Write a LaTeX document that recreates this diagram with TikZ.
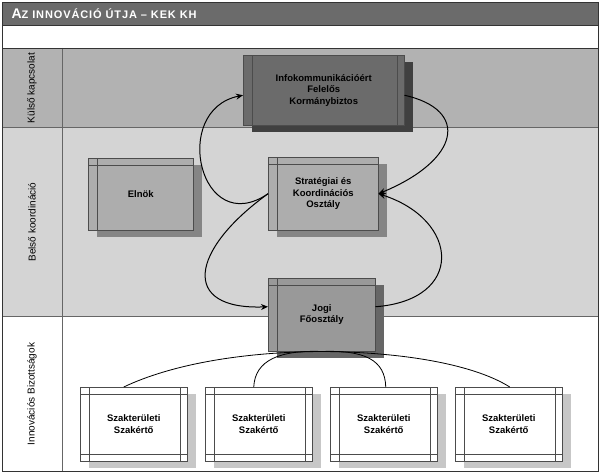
\documentclass[tikz,border=0pt]{standalone}
\usepackage{fontspec}
\setmainfont{Liberation Sans}
\newfontfamily\titlefont[LetterSpace=8]{Liberation Sans}
\usetikzlibrary{arrows.meta}
\begin{document}
\begin{tikzpicture}[x=1pt,y=-1pt,
  box/.style={draw=black!70,line width=0.5pt,minimum width=#1,align=center,font=\bfseries\fontsize{9.5}{11.5}\selectfont,inner sep=0pt,
    path picture={\draw[black!70,line width=0.4pt]
      ([xshift=9pt]path picture bounding box.north west)--([xshift=9pt]path picture bounding box.south west)
      ([xshift=-7pt]path picture bounding box.north east)--([xshift=-7pt]path picture bounding box.south east);}},
  hbars/.style={path picture={\draw[black!70,line width=0.4pt]
      ([xshift=9pt]path picture bounding box.north west)--([xshift=9pt]path picture bounding box.south west)
      ([xshift=-7pt]path picture bounding box.north east)--([xshift=-7pt]path picture bounding box.south east)
      ([yshift=-7pt]path picture bounding box.north west)--([yshift=-7pt]path picture bounding box.north east)
      ([yshift=7pt]path picture bounding box.south west)--([yshift=7pt]path picture bounding box.south east);}},
  topbar/.style={path picture={\draw[black!70,line width=0.4pt]
      ([xshift=9pt]path picture bounding box.north west)--([xshift=9pt]path picture bounding box.south west)
      ([yshift=-7pt]path picture bounding box.north west)--([yshift=-7pt]path picture bounding box.north east);}},
  arr/.style={line width=1pt,-{Stealth[length=7pt,width=6pt]}},
  ln/.style={line width=0.8pt},
  lane/.style={font=\fontsize{10}{11}\selectfont,rotate=90}]
\useasboundingbox (0,0) rectangle (600,473);
\fill[white] (0,0) rectangle (600,473);
% lanes
\fill[black!30] (2,48) rectangle (598,127);
\fill[black!17] (2,127) rectangle (598,316);
\draw[black!60,line width=0.5pt] (2,127)--(598,127) (2,316)--(598,316) (62,48)--(62,471);
\fill[black!58] (2,2) rectangle (598,25);
\draw[black!80,line width=0.8pt] (2,2) rectangle (598,471) (2,25)--(598,25) (2,48)--(598,48);
\node[anchor=west,text=white,font=\bfseries\titlefont] (title) at (8,14) {\fontsize{14}{15}\selectfont A\fontsize{11}{12}\selectfont Z INNOVÁCIÓ ÚTJA – KEK KH};
\node[lane] (l1) at (32,88) {Külső kapcsolat};
\node[lane] (l2) at (32,222) {Belső koordináció};
\node[lane] (l3) at (32,394) {Innovációs Bizottságok};
% shadows
\fill[black!75] (252,62) rectangle (413,132);
\fill[black!48] (97,165) rectangle (202,237);
\fill[black!48] (277,164) rectangle (387,237);
\fill[black!60] (277,285) rectangle (384,358);
\foreach \x in {80,205,330,455} \fill[black!22] (\x+9,394) rectangle (\x+116,468);
% boxes
\node[box=161pt,minimum height=70pt,fill=black!58,anchor=north west] (info) at (243,55) {Infokommunikációért\\Felelős\\Kormánybiztos};
\node[box=105pt,minimum height=72pt,fill=black!32,anchor=north west,topbar] (eln) at (88,158) {Elnök};
\node[box=110pt,minimum height=73pt,fill=black!32,anchor=north west,topbar] (str) at (268,157) {Stratégiai és\\Koordinációs\\Osztály};
\node[box=107pt,minimum height=73pt,fill=black!40,anchor=north west,topbar] (jog) at (268,278) {Jogi\\Főosztály};
\foreach \i/\x in {1/80,2/205,3/330,4/455}
  \node[box=107pt,minimum height=74pt,fill=white,anchor=north west,hbars] (s\i) at (\x,387) {Szakterületi\\Szakértő};
% arrows
\draw[arr] (str.west) ..controls (200,240) and (170,110).. ([yshift=-5pt]info.west);
\draw[arr] ([yshift=-5pt]info.east) ..controls (470,110) and (460,160).. (str.east);
\draw[arr] (str.west) ..controls (190,250) and (180,310).. ([yshift=8pt]jog.west);
\draw[arr] ([yshift=8pt]jog.east) ..controls (465,300) and (460,220).. (str.east);
% tree
\coordinate (jb) at (jog.south);
\draw[ln] (jb) ..controls (240,352) and (170,365).. ([xshift=-10pt]s1.north);
\draw[ln] (jb) ..controls (280,350) and (255,360).. ([xshift=-5pt]s2.north);
\draw[ln] (jb) ..controls (365,350) and (385,360).. ([xshift=2pt]s3.north);
\draw[ln] (jb) ..controls (405,352) and (475,365).. ([xshift=1pt]s4.north);
\end{tikzpicture}
\end{document}
